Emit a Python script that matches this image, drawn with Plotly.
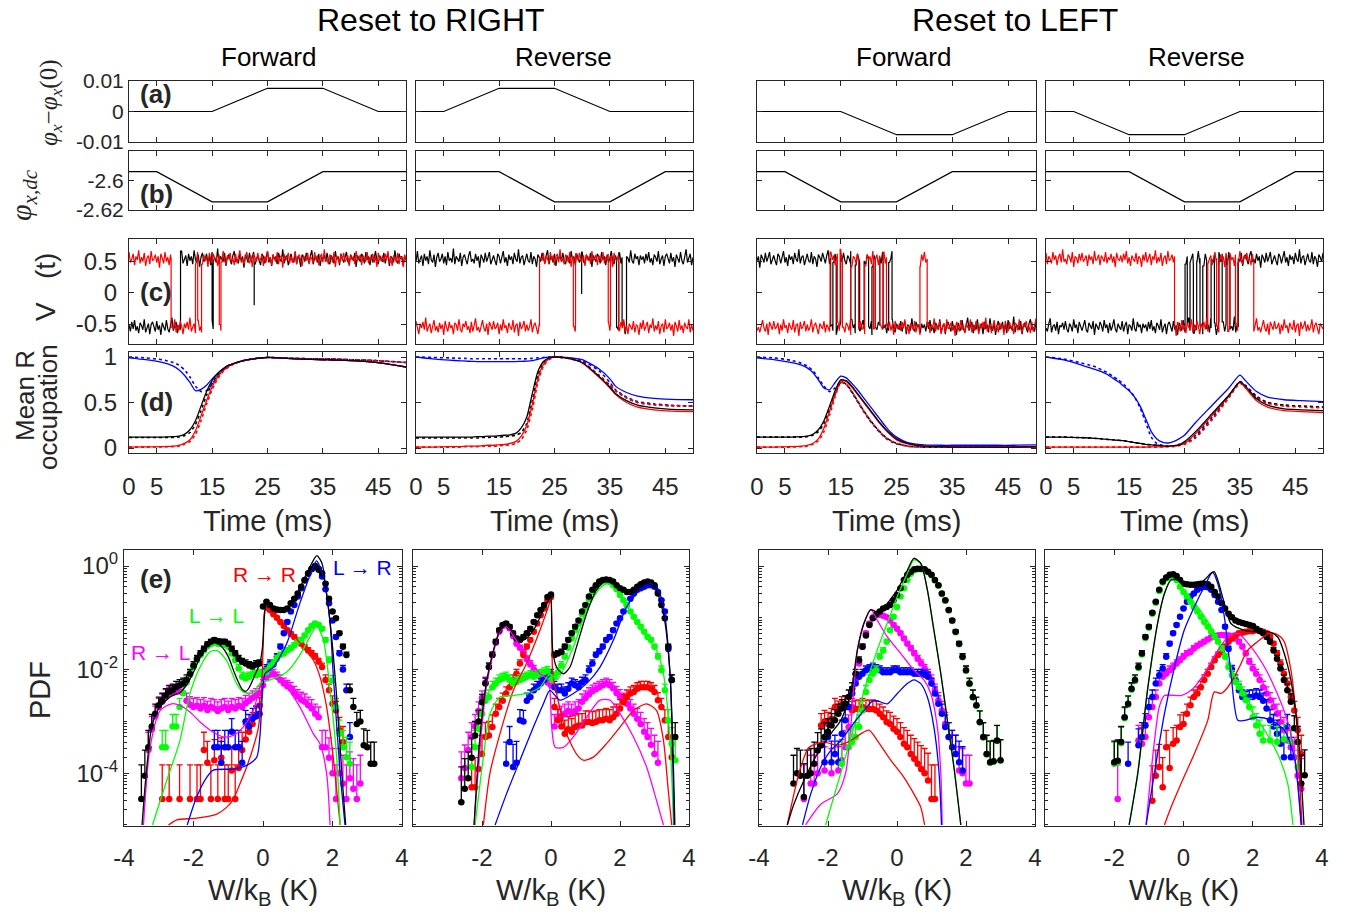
import plotly.graph_objects as go

FIG_W, FIG_H = 1348, 920
SANS = "Liberation Sans, Arial, sans-serif"
SERIF = "Liberation Serif, Times New Roman, serif"
AXC = "#262626"
K, R, G, B, M = "#000000", "#ff0000", "#00ff00", "#0000ff", "#ff00ff"
NA = None

PANELS = ["RF", "RR", "LF", "LR"]
COLS_TOP = [(129, 406), (416, 693), (757, 1036), (1046, 1323)]
COLS_E = [(124, 402), (413, 689), (759, 1035), (1045, 1322)]
ROWS = {"a": (81, 142), "b": (151, 210), "c": (239, 344), "d": (352, 453), "e": (550, 826)}

# ---------------- (a), (b) flux protocols
T_PROTO = [0, 5, 15, 25, 35, 45, 50]
PHI_X = {
    "RF": [0, 0, 0, 0.0076, 0.0076, 0, 0],
    "RR": [0, 0, 0.0076, 0.0076, 0, 0, 0],
    "LF": [0, 0, 0, -0.0076, -0.0076, 0, 0],
    "LR": [0, 0, -0.0076, -0.0076, 0, 0, 0],
}
PHI_DC = {
    "RF": [-2.594, -2.594, -2.6145, -2.6145, -2.594, -2.594, -2.594],
    "RR": [-2.594, -2.594, -2.594, -2.6145, -2.6145, -2.594, -2.594],
    "LF": [-2.594, -2.594, -2.6145, -2.6145, -2.594, -2.594, -2.594],
    "LR": [-2.594, -2.594, -2.594, -2.6145, -2.6145, -2.594, -2.594],
}

# ---------------- (c) V(t) traces: switching times + measured noise (units of NOISE_UNIT V)
T_END = 50.0
LEVEL_HIGH, LEVEL_LOW = 0.54, -0.55
NOISE_UNIT = 0.014
SWITCH_K = {  # (starts high?, switching times ms)
    "RF": (False, [9.3, 15.0, 15.2]),
    "RR": (True, [36.2, 36.6, 37.2, 38.0]),
    "LF": (True, [13.2, 13.6, 14.2, 15.0, 16.8, 17.6, 18.4, 19.2, 20.0, 20.6, 21.2, 22.0, 22.6, 23.6, 24.2]),
    "LR": (False, [25.1, 25.5, 26.0, 26.6, 27.2, 27.8, 28.3, 29.0, 29.8, 30.4, 31.2, 31.8, 32.5, 33.2, 34.7]),
}
SWITCH_R = {
    "RF": (True, [7.6, 12.0, 12.4, 13.1, 16.3, 16.6]),
    "RR": (False, [22.3, 28.4, 28.8, 34.7, 35.1, 36.6]),
    "LF": (False, [13.1, 14.4, 14.9, 15.3, 16.8, 18.2, 19.3, 20.9, 21.2, 22.0, 22.6, 23.2, 29.2, 30.5]),
    "LR": (True, [23.2, 29.2, 30.8, 31.2, 32.8, 33.2, 34.2, 34.6, 37.5]),
}
SPIKES_K = {"RF": [(22.6, -0.2)], "RR": [(29.9, -0.02)], "LF": [], "LR": []}
NOISE_SHIFT = {"RF": 0, "RR": 37, "LF": 81, "LR": 129}
NOISE_K = [
    3, -5, 6, -2, 8, -4, 1, -7, 5, 2, -3, 9, -6, 0, 4, -8, 3, 6, -1, -5,
    7, -3, 2, -9, 5, 1, -4, 8, -2, -6, 3, 11, -4, 0, 6, -7, 2, -3, 9, -5,
    1, 4, -8, 6, -2, 3, -6, 10, -1, -4, 5, -9, 2, 7, -3, 0, 6, -5, 3, -7,
    8, -2, 1, -4, 12, -6, 3, 0, -3, 7, -8, 2, 5, -1, -6, 4, 9, -3, 0, -5,
    6, -2, 3, -10, 5, 1, -4, 7, -3, 2, 8, -6, 0, 4, -2, -7, 6, 3, -5, 1,
    9, -4, 2, -8, 5, -1, 3, -6, 7, 0, -3, 11, -5, 2, 4, -7, 1, 6, -2, -4,
    8, -6, 3, 0, -9, 5, 2, -3, 7, -1, -5, 4, 10, -6, 1, 3, -4, 6, -8, 2,
    0, 5, -3, 7, -2, -6, 4, 1, -5, 9, -1, 3, -7, 6, 0, -4, 2, 8, -3, -6,
    5, 1, -2, 7, -9, 4, 0, -3, 6, 2, -5, 8, -1, 3, -7, 5, -4, 1, 9, -2,
    -6, 4, 0, -3, 7, -5, 2, 6, -8, 3, 1, -4, 10, -2, -5, 6, 0, 3, -7, 4,
    -1,
]
NOISE_R = [
    -4, 6, -1, 9, -5, 2, -8, 4, 0, -3, 7, -6, 3, 1, -9, 5, -2, 8, -4, 0,
    6, -7, 3, -1, 10, -5, 2, -3, 7, -8, 1, 4, -6, 9, -2, 0, 5, -4, 3, -10,
    6, 1, -5, 8, -3, 2, -7, 5, 0, -2, 9, -6, 3, -4, 7, 1, -8, 4, -1, 6,
    -3, 11, -5, 0, 4, -7, 2, 8, -4, 1, -6, 5, -2, 3, -9, 7, 0, -5, 6, -1,
    2, -8, 5, 3, -4, 9, -2, -6, 4, 0, 7, -3, 1, -7, 6, -5, 2, 10, -4, 0,
    -6, 3, 8, -1, -5, 4, -9, 6, 1, -3, 7, -2, 0, 5, -8, 3, -4, 9, -1, 2,
    -7, 5, 0, -3, 8, -6, 2, 4, -10, 6, -2, 1, 7, -5, 3, -4, 0, 9, -6, 2,
    5, -3, -8, 4, 1, -2, 7, -6, 3, 0, -5, 8, -1, 4, -7, 2, 6, -4, 11, -3,
    0, -6, 5, 2, -4, 8, -9, 3, 1, -5, 6, -2, 7, -3, 0, 4, -8, 5, -1, 3,
    -6, 9, -2, 0, 5, -7, 4, 1, -3, 8, -5, 2, -1, 6, -4, 3, -9, 7, 0, -2,
    4,
]

# ---------------- (d) mean R occupation (solid = theory, dotted = experiment)
T_OCC = [0, 3, 6, 8, 9, 10, 11, 12, 13, 14, 15, 16, 17, 18, 19, 20, 21, 22, 23, 24, 25, 27, 30, 33, 35, 36, 38, 40, 43, 46, 50]
OCC = {
    "RF": {
        "blue": [.99, .97, .94, .90, .86, .80, .72, .63, .645, .69, .76, .82, .87, .91, .93, .95, .965, .975, .985, .99, .995, .99, .98, .975, .97, .97, .965, .96, .95, .93, .89],
        "blueD": [1.0, .99, .97, .94, .91, .86, .78, .68, .62, .63, .70, .79, .85, .90, .93, .95, .965, .975, .985, .99, .995, .99, .985, .98, .98, .98, .975, .97, .965, .955, .94],
        "black": [.12, .12, .12, .125, .13, .15, .20, .30, .46, .62, .74, .82, .87, .91, .93, .95, .965, .975, .985, .99, .995, .99, .98, .975, .97, .97, .965, .96, .95, .93, .89],
        "blackD": [.115, .115, .115, .115, .12, .135, .17, .26, .41, .58, .71, .80, .86, .90, .93, .95, .965, .975, .985, .99, .995, .99, .985, .98, .98, .98, .975, .97, .965, .955, .94],
        "red": [.01, .012, .015, .02, .03, .05, .09, .19, .35, .52, .67, .78, .85, .90, .93, .95, .965, .975, .985, .99, .995, .99, .98, .975, .97, .97, .965, .96, .95, .93, .89],
        "redD": [.01, .01, .012, .015, .02, .04, .07, .15, .30, .48, .64, .76, .84, .89, .925, .95, .965, .975, .985, .99, .995, .99, .985, .98, .98, .98, .975, .97, .965, .955, .94],
    },
    "RR": {
        "blue": [1.0, .98, .965, .958, .955, .952, .95, .95, .95, .95, .95, .95, .95, .95, .952, .955, .96, .975, .99, .998, 1.0, .995, .97, .87, .76, .68, .61, .57, .545, .535, .53],
        "blueD": [1.0, .995, .99, .985, .985, .98, .98, .98, .98, .98, .98, .98, .98, .98, .98, .98, .985, .99, .995, 1.0, 1.0, .99, .96, .85, .72, .64, .56, .51, .485, .47, .46],
        "black": [.12, .12, .12, .12, .12, .12, .125, .125, .13, .13, .135, .14, .145, .16, .22, .34, .60, .84, .95, .99, 1.0, .99, .94, .79, .67, .60, .52, .47, .44, .425, .42],
        "blackD": [.11, .11, .11, .11, .11, .11, .11, .115, .115, .12, .12, .125, .13, .14, .17, .27, .52, .80, .93, .98, 1.0, .99, .945, .80, .69, .63, .55, .50, .475, .465, .46],
        "red": [.01, .01, .015, .015, .02, .02, .02, .025, .03, .03, .035, .04, .05, .07, .13, .25, .48, .76, .92, .98, 1.0, .99, .935, .78, .66, .59, .50, .45, .42, .405, .40],
        "redD": [.01, .01, .01, .01, .015, .015, .015, .02, .02, .02, .025, .03, .035, .05, .09, .20, .42, .72, .90, .97, 1.0, .99, .945, .80, .69, .63, .55, .50, .475, .465, .46],
    },
    "LF": {
        "blue": [.99, .97, .94, .91, .88, .83, .75, .66, .64, .72, .79, .77, .71, .64, .56, .48, .40, .32, .24, .17, .12, .06, .035, .03, .03, .03, .03, .03, .03, .03, .035],
        "blueD": [1.0, .99, .965, .93, .90, .85, .77, .68, .62, .66, .73, .70, .61, .51, .41, .32, .24, .17, .11, .07, .045, .02, .01, .01, .01, .01, .01, .01, .01, .01, .01],
        "black": [.12, .12, .12, .125, .13, .15, .20, .30, .46, .63, .75, .74, .68, .60, .52, .44, .36, .28, .21, .15, .10, .05, .02, .015, .01, .01, .01, .01, .01, .01, .015],
        "blackD": [.12, .12, .12, .12, .125, .14, .18, .27, .42, .59, .72, .70, .62, .52, .42, .33, .25, .18, .12, .08, .05, .02, .01, .01, .01, .01, .01, .01, .01, .01, .01],
        "red": [.01, .01, .015, .02, .03, .05, .10, .22, .40, .59, .74, .73, .67, .59, .51, .43, .35, .27, .20, .14, .09, .045, .02, .015, .01, .01, .01, .01, .01, .01, .01],
        "redD": [.01, .01, .01, .015, .02, .04, .08, .18, .36, .56, .72, .70, .62, .52, .42, .33, .25, .18, .12, .08, .05, .02, .01, .01, .01, .01, .01, .01, .01, .01, .01],
    },
    "LR": {
        "blue": [1.0, .97, .92, .88, .86, .84, .81, .77, .73, .68, .63, .56, .46, .32, .18, .10, .065, .055, .07, .10, .14, .28, .47, .66, .80, .74, .62, .56, .53, .52, .51],
        "blueD": [1.0, .98, .94, .91, .89, .86, .83, .79, .75, .70, .64, .56, .44, .28, .12, .05, .03, .02, .025, .04, .06, .14, .34, .57, .73, .69, .57, .50, .47, .46, .45],
        "black": [.12, .12, .115, .11, .105, .10, .095, .09, .085, .08, .07, .06, .05, .04, .035, .03, .025, .02, .025, .035, .07, .18, .38, .58, .73, .68, .54, .47, .43, .42, .41],
        "blackD": [.12, .12, .115, .11, .105, .10, .095, .09, .085, .08, .07, .06, .05, .04, .035, .03, .025, .02, .02, .03, .045, .12, .32, .56, .72, .68, .56, .50, .47, .46, .45],
        "red": [.01, .01, .01, .01, .01, .01, .01, .01, .01, .01, .01, .01, .01, .01, .012, .012, .013, .015, .02, .03, .05, .16, .36, .57, .72, .66, .52, .45, .41, .40, .39],
        "redD": [.01, .01, .01, .01, .01, .01, .01, .01, .01, .01, .01, .01, .01, .01, .01, .01, .012, .013, .015, .025, .04, .11, .31, .55, .71, .67, .55, .49, .46, .45, .44],
    },
}

# ---------------- (e) work PDFs: experiment, log10(PDF) in 0.1 K bins (start W, values)
BIN_W = 0.1
COUNT_SCALE = 2500.0  # counts per unit PDF in a bin (sets Poisson error bars)
PDF_EXP = {
    "RF": {
        M: (-3.3, [-3.55, -3.15, -2.9, -2.72, -2.62, -2.52, -2.47, -2.45, -2.42, -2.42, -2.45, -2.6, -2.68, -2.72, -2.7, -2.75, -2.7, -2.78, -2.72, -2.75, -2.8, -2.75, -2.72, -2.78, -2.72, -2.75, -2.7, -2.72, -2.65, -2.6, -2.55, -2.5, -2.45, -2.3, -2.15, -2.1, -2.08, -2.14, -2.2, -2.27, -2.32, -2.36, -2.45, -2.52, -2.58, -2.62, -2.69, -2.75, -2.85, -2.92, -3.5, -3.5, -3.7, -4.0, -4.5, -4.0, -4.2, -4.5, -4.1, -4.3, -4.5, -4.2]),
        R: (-2.9, [-4.5, NA, -4.5, NA, NA, -4.5, NA, NA, -4.5, NA, -4.5, -4.5, -3.55, -3.8, -4.5, -3.75, -4.5, -3.7, -4.5, -4.5, -3.95, -4.5, -3.9, -3.55, -3.35, -3.2, -3.05, -2.9, -2.7, -2.1, -0.78, -0.85, -0.93, -1.0, -1.08, -1.16, -1.24, -1.31, -1.37, -1.44, -1.5, -1.57, -1.63, -1.69, -1.75, -1.85, -1.95, -2.2, -2.4, -2.66, -2.79, -3.17, -3.4]),
        B: (-1.4, [-3.5, -3.5, -3.8, -3.5, -3.5, -3.2, -3.5, -3.5, -3.8, -3.0, -3.1, -2.95, -2.9, -2.85, -2.1, -1.98, -1.88, -1.9, -1.75, -1.56, -1.3, -1.08, -0.88, -0.75, -0.59, -0.43, -0.28, -0.15, -0.06, -0.01, -0.07, -0.2, -0.45, -0.72, -1.05, -1.37, -1.69, -2.0, -2.4, -3.3]),
        G: (-2.9, [-3.5, -3.5, NA, -3.1, -3.1, -2.72, -2.45, -2.25, -2.1, -1.95, -1.82, -1.72, -1.63, -1.55, -1.51, -1.48, -1.5, -1.51, -1.52, -1.56, -1.69, -1.82, -1.98, -2.14, -2.17, -2.14, -2.08, -2.11, -2.08, -2.1, -2.05, -1.95, -1.88, -1.79, -1.72, -1.69, -1.63, -1.59, -1.53, -1.46, -1.43, -1.34, -1.24, -1.16, -1.11, -1.14, -1.21, -1.43, -1.82, -2.21, -2.72, -3.24, -3.5, -3.69, -3.82]),
        K: (-3.5, [-4.5, -4.05, -3.5, -3.1, -2.85, -2.69, -2.6, -2.5, -2.43, -2.4, -2.34, -2.3, -2.27, -2.2, -2.08, -1.92, -1.79, -1.69, -1.6, -1.51, -1.46, -1.43, -1.45, -1.46, -1.46, -1.5, -1.6, -1.69, -1.79, -1.85, -1.88, -1.92, -1.94, -1.9, -1.88, -0.78, -0.69, -0.75, -0.82, -0.84, -0.85, -0.85, -0.82, -0.72, -0.63, -0.53, -0.4, -0.27, -0.14, -0.05, 0.0, -0.05, -0.14, -0.34, -0.63, -0.88, -1.01, -1.3, -1.56, -1.72, -2.4, -2.72, -3.05, -3.0, -3.46, -3.5, -3.82, -3.82]),
    },
    "RR": {
        M: (-2.6, [-4.1, -3.9, -3.55, -3.3, -3.1, -2.8, -2.55, -2.25, -1.95, -1.72, -1.48, -1.27, -1.16, -1.13, -1.2, -1.35, -1.5, -1.58, -1.66, -1.8, -1.9, -2.0, -2.1, -2.15, -2.2, -2.25, -2.3, -3.1, -2.95, -2.9, -2.85, -2.8, -2.85, -2.8, -2.75, -2.62, -2.55, -2.48, -2.42, -2.38, -2.34, -2.3, -2.27, -2.3, -2.36, -2.45, -2.52, -2.6, -2.66, -2.75, -2.85, -2.95, -3.05, -3.2, -3.3, -3.45, -3.63, -3.8]),
        R: (-2.3, [-4.27, -4.27, -3.92, -3.63, -3.3, -3.27, -3.11, -2.85, -2.72, -2.6, -2.46, -2.34, -2.2, -2.08, -1.88, -1.72, -1.56, -1.43, -1.27, -1.11, -0.95, -0.82, -0.66, -0.6, -2.72, -2.98, -3.1, -3.24, -3.15, -3.2, -3.11, -3.08, -3.08, -3.01, -3.01, -3.03, -3.01, -2.98, -2.98, -2.95, -2.98, -2.92, -2.85, -2.75, -2.63, -2.53, -2.46, -2.43, -2.37, -2.34, -2.34, -2.34, -2.37, -2.43, -2.59, -2.72, -2.98, -3.3, -3.69]),
        B: (-1.3, [-3.82, -3.4, -3.88, -3.8, -2.98, -3.0, -2.6, -2.53, -2.4, -2.34, -2.27, -2.2, -2.15, -2.08, -2.34, -2.4, -2.4, -2.46, -2.37, -2.27, -2.3, -2.34, -2.25, -2.2, -2.01, -1.88, -1.72, -1.65, -1.56, -1.43, -1.37, -1.24, -1.11, -1.01, -0.88, -0.75, -0.63, -0.53, -0.46, -0.43, -0.4, -0.37, -0.37, -0.4, -0.5, -0.66, -0.88, -1.6, -2.2]),
        G: (-2.3, [-3.88, -3.5, -3.14, -2.85, -2.6, -2.53, -2.34, -2.27, -2.2, -2.17, -2.14, -2.2, -2.27, -2.24, -2.2, -2.17, -2.14, -2.11, -2.14, -2.11, -2.08, -2.05, -2.02, -2.2, -2.14, -2.05, -1.92, -1.75, -1.58, -1.4, -1.24, -1.1, -0.93, -0.8, -0.64, -0.5, -0.4, -0.33, -0.3, -0.29, -0.31, -0.37, -0.45, -0.56, -0.66, -0.75, -0.88, -0.98, -1.08, -1.17, -1.27, -1.37, -1.43, -1.56, -1.75, -2.01, -2.4, -2.98, -3.43, -3.75]),
        K: (-2.6, [-4.56, -4.3, -4.1, -3.7, -3.27, -3.0, -2.63, -2.27, -1.95, -1.72, -1.46, -1.24, -1.14, -1.11, -1.17, -1.3, -1.4, -1.43, -1.37, -1.3, -1.21, -1.08, -0.95, -0.85, -0.75, -0.6, -0.55, -1.72, -1.69, -1.66, -1.56, -1.43, -1.3, -1.17, -1.05, -0.88, -0.75, -0.59, -0.46, -0.37, -0.3, -0.27, -0.26, -0.27, -0.3, -0.37, -0.43, -0.46, -0.5, -0.5, -0.46, -0.4, -0.35, -0.32, -0.3, -0.32, -0.37, -0.53, -0.75, -1.01, -1.56, -2.2, -3.3]),
    },
    "LF": {
        M: (-2.7, [-4.5, NA, -4.2, -4.2, -4.0, NA, -3.95, NA, -4.0, NA, -3.95, -3.75, -3.5, -3.11, -2.72, -2.2, -1.88, -1.56, -1.3, -1.11, -0.99, -0.95, -0.94, -0.96, -0.99, -1.05, -1.14, -1.21, -1.3, -1.4, -1.5, -1.59, -1.69, -1.79, -1.88, -1.98, -2.08, -2.2, -2.4, -2.59, -2.79, -3.05, -3.3, -3.5, -3.63, -3.95, -4.0, -4.2, -4.2]),
        R: (-2.2, [-3.08, -3.0, -3.05, -2.95, -2.72, -2.78, -2.68, -2.66, -2.72, -2.79, -2.76, -2.76, -2.72, -2.76, -2.76, -2.76, -2.79, -2.85, -2.92, -3.01, -3.05, -3.14, -3.2, -3.3, -3.43, -3.5, -3.63, -3.72, -3.82, -3.92, -4.0, -4.14, -4.5, -4.5]),
        B: (-2.1, [-3.79, -3.3, -3.79, -3.63, -3.79, -3.24, -2.98, -2.72, -2.46, -2.27, -2.14, -2.08, -2.01, -1.98, -1.95, -1.98, -2.01, -2.05, -2.05, -2.05, -2.01, -2.01, -2.05, -2.05, -2.05, -2.05, -2.08, -2.08, -2.08, -2.1, -2.14, -2.27, -2.46, -2.66, -2.85, -3.11, -3.3, -3.5, -3.63, -3.79, -3.95]),
        G: (-1.6, [-3.82, NA, -3.5, -3.4, -3.3, -3.11, -2.79, -2.43, -2.2, -2.08, -2.01, -1.75, -1.63, -1.46, -1.24, -0.98, -0.79, -0.59, -0.43, -0.27, -0.15, -0.08, -0.06, -0.06, -0.07, -0.12, -0.18, -0.28, -0.38, -0.54, -0.67, -0.86, -1.06, -1.28, -1.51, -1.76, -2.02, -2.28, -2.54, -2.7, -3.02, -3.31, -3.64, -3.8, -3.78, -3.38, -3.76]),
        K: (-3.0, [-4.2, -4.0, -4.05, -4.46, -4.05, -4.0, -3.82, -3.56, -3.46, -3.3, -3.2, -3.08, -2.98, -2.85, -2.75, -2.66, -2.53, -2.37, -2.08, -1.82, -1.56, -1.34, -1.14, -1.01, -0.93, -0.88, -0.82, -0.79, -0.75, -0.66, -0.56, -0.43, -0.27, -0.17, -0.11, -0.06, -0.05, -0.05, -0.06, -0.11, -0.17, -0.27, -0.37, -0.53, -0.66, -0.85, -1.05, -1.27, -1.5, -1.75, -2.01, -2.27, -2.53, -2.69, -3.01, -3.3, -3.63, -3.79, -3.77, -3.37, -3.75]),
    },
    "LR": {
        M: (-1.9, [-4.5, NA, NA, NA, NA, NA, -3.37, -3.43, -3.3, -2.92, -2.72, -2.53, -2.27, -2.14, -2.08, -2.01, -1.95, -1.88, -1.82, -1.75, -1.69, -1.66, -1.59, -1.54, -1.5, -1.46, -1.42, -1.38, -1.35, -1.34, -1.33, -1.34, -1.34, -1.36, -1.4, -1.46, -1.56, -1.69, -1.85, -1.98, -2.08, -2.2, -2.34, -2.46, -2.59, -2.72, -2.85, -3.01, -3.17, -3.37, -3.5, -3.69, -4.05, -4.3]),
        R: (-0.9, [-4.53, -4.05, -3.88, -4.27, -3.5, -3.9, -3.43, -3.37, -3.11, -3.05, -2.85, -2.69, -2.53, -2.46, -2.34, -2.2, -2.08, -1.95, -1.82, -1.72, -1.66, -1.56, -1.46, -1.4, -1.34, -1.3, -1.29, -1.27, -1.26, -1.26, -1.24, -1.26, -1.27, -1.3, -1.37, -1.5, -1.69, -1.88, -2.08, -2.27, -2.53, -2.79, -3.17, -3.63]),
        B: (-1.6, [-3.82, NA, NA, -3.46, -3.3, -3.08, -2.72, -2.53, -2.27, -2.11, -1.98, -1.75, -1.5, -1.3, -1.14, -0.98, -0.82, -0.69, -0.59, -0.53, -0.46, -0.42, -0.4, -0.41, -0.46, -0.56, -0.69, -0.85, -1.17, -1.6, -2.0, -2.2, -2.4, -2.53, -2.56, -2.53, -2.53, -2.5, -2.53, -2.6, -2.75, -2.98, -3.1, -3.24, -3.43, -3.69, -3.1, -3.69]),
        G: (-2.0, [-3.82, -3.79, -3.42, -2.94, -2.68, -2.39, -2.22, -1.97, -1.71, -1.39, -1.19, -0.92, -0.71, -0.48, -0.32, -0.24, -0.2, -0.22, -0.27, -0.4, -0.5, -0.59, -0.69, -0.79, -0.88, -0.98, -1.08, -1.17, -1.27, -1.37, -1.46, -1.59, -1.75, -1.95, -2.11, -2.24, -2.34, -2.46, -2.59, -2.72, -2.92, -3.08, -3.24, -3.37, NA, -3.37, NA, -3.4, NA, -3.35, NA, -3.4, NA, -3.88]),
        K: (-2.0, [-3.79, -3.76, -3.4, -2.92, -2.66, -2.37, -2.2, -1.95, -1.69, -1.37, -1.17, -0.9, -0.69, -0.46, -0.3, -0.22, -0.17, -0.16, -0.19, -0.27, -0.34, -0.35, -0.36, -0.36, -0.35, -0.34, -0.34, -0.35, -0.4, -0.5, -0.59, -0.72, -0.82, -0.92, -0.99, -1.05, -1.08, -1.1, -1.12, -1.14, -1.16, -1.21, -1.25, -1.3, -1.37, -1.46, -1.63, -1.79, -1.98, -2.2, -2.4, -2.62, -3.13, -3.4, -4.2, -4.04]),
    },
}

# ---------------- (e) theory curves: (W values, log10 PDF)
PDF_TH = {
    "RF": {
        M: ([-3.44, -3.25, -2.96, -2.63, -2.39, -2.1, -1.81, -1.43, -1.14, -0.85, -0.57, -0.28, -0.09, 0.01, 0.3, 0.68, 1.06, 1.45, 1.64, 1.83, 1.93],
            [-5.0, -3.5, -2.79, -2.66, -2.69, -2.82, -3.01, -3.21, -3.3, -3.27, -3.11, -2.79, -2.34, -2.14, -2.14, -2.34, -2.72, -3.24, -3.43, -4.0, -5.0]),
        R: ([-2.72, -2.48, -1.91, -1.33, -1.05, -0.85, -0.66, -0.47, -0.28, -0.13, -0.04, 0.01, 0.06, 0.2, 0.68, 1.16, 1.45, 1.64, 1.83, 2.02, 2.17, 2.22],
            [-5.0, -4.9, -4.87, -4.79, -4.66, -4.5, -4.2, -3.88, -3.5, -3.11, -2.4, -1.43, -0.85, -0.88, -1.2, -1.56, -1.82, -2.14, -2.72, -3.69, -4.66, -5.0]),
        G: ([-3.18, -2.77, -2.39, -2.1, -1.81, -1.53, -1.33, -1.05, -0.76, -0.57, -0.28, -0.09, 0.2, 0.68, 1.06, 1.45, 1.54, 1.74, 1.93, 2.12, 2.22],
            [-5.0, -4.14, -3.37, -2.46, -1.95, -1.66, -1.63, -1.82, -2.27, -2.43, -2.46, -2.27, -2.2, -2.05, -1.72, -1.24, -1.14, -1.43, -2.4, -3.69, -5.0]),
        B: ([-2.18, -1.91, -1.62, -1.43, -0.85, -0.47, -0.18, -0.09, -0.01, 0.06, 0.3, 0.68, 1.06, 1.45, 1.54, 1.74, 1.93, 2.02, 2.22, 2.36],
            [-5.0, -4.46, -4.08, -3.94, -3.92, -3.85, -3.69, -3.3, -2.4, -2.08, -1.95, -1.5, -0.72, -0.02, 0.1, -0.2, -1.1, -2.08, -4.0, -5.0]),
        K: ([-3.48, -3.4, -3.3, -3.2, -3.0, -2.8, -2.6, -2.4, -2.2, -2.0, -1.8, -1.6, -1.4, -1.2, -1.0, -0.8, -0.6, -0.5, -0.4, -0.2, -0.1, -0.02, 0.05, 0.1, 0.2, 0.4, 0.6, 0.8, 1.0, 1.2, 1.4, 1.55, 1.7, 1.8, 1.9, 2.0, 2.1, 2.2, 2.3, 2.38],
            [-5.0, -4.3, -3.6, -3.1, -2.75, -2.6, -2.5, -2.45, -2.3, -2.05, -1.75, -1.55, -1.48, -1.55, -1.75, -2.1, -2.38, -2.42, -2.35, -2.05, -1.9, -1.6, -0.9, -0.72, -0.78, -0.88, -0.88, -0.75, -0.52, -0.22, 0.05, 0.2, 0.05, -0.4, -0.9, -1.55, -2.35, -3.3, -4.3, -5.0]),
    },
    "RR": {
        M: ([-2.23, -1.86, -1.48, -1.29, -1.04, -0.71, -0.32, -0.08, 0.02, 0.12, 0.36, 0.65, 1.03, 1.42, 1.71, 2.0, 2.39, 2.77, 3.06, 3.26],
            [-5.0, -2.27, -1.27, -1.17, -1.4, -1.72, -2.08, -2.2, -3.11, -3.5, -3.5, -3.3, -2.92, -2.59, -2.59, -2.85, -3.3, -3.88, -4.53, -5.0]),
        R: ([-1.96, -1.77, -1.48, -1.09, -0.71, -0.32, -0.08, -0.01, 0.05, 0.16, 0.45, 0.74, 0.94, 1.23, 1.61, 2.0, 2.39, 2.77, 3.06, 3.26, 3.4, 3.5],
            [-5.0, -4.0, -3.24, -2.4, -1.88, -1.24, -0.79, -0.66, -2.08, -2.46, -3.24, -3.63, -3.75, -3.69, -3.43, -3.11, -2.79, -2.66, -2.79, -3.37, -4.34, -5.0]),
        G: ([-2.2, -1.96, -1.77, -1.48, -1.09, -0.71, -0.32, -0.03, 0.16, 0.65, 1.03, 1.42, 1.66, 2.0, 2.39, 2.77, 3.06, 3.26, 3.45, 3.55],
            [-5.0, -3.69, -2.85, -2.53, -2.5, -2.46, -2.34, -2.08, -2.2, -1.56, -0.85, -0.43, -0.34, -0.56, -0.98, -1.37, -1.63, -2.08, -3.37, -5.0]),
        B: ([-1.62, -1.29, -0.9, -0.51, -0.22, -0.03, 0.26, 0.65, 1.03, 1.42, 1.81, 2.19, 2.58, 2.87, 3.06, 3.26, 3.45, 3.57],
            [-5.0, -4.4, -3.75, -3.11, -2.66, -2.4, -2.59, -2.46, -2.27, -1.95, -1.43, -0.79, -0.46, -0.34, -0.4, -0.79, -2.08, -5.0]),
        K: ([-2.23, -2.06, -1.86, -1.67, -1.48, -1.29, -1.04, -0.8, -0.51, -0.22, -0.08, -0.01, 0.05, 0.16, 0.36, 0.55, 0.74, 1.03, 1.32, 1.61, 1.9, 2.19, 2.48, 2.77, 2.97, 3.26, 3.45, 3.59],
            [-5.0, -3.3, -2.2, -1.63, -1.24, -1.14, -1.34, -1.43, -1.24, -0.85, -0.66, -0.53, -1.63, -1.95, -2.08, -1.95, -1.56, -0.92, -0.46, -0.27, -0.34, -0.5, -0.4, -0.27, -0.34, -0.92, -2.08, -5.0]),
    },
    "LF": {
        M: ([-2.65, -2.21, -1.73, -1.49, -1.34, -1.15, -0.96, -0.76, -0.57, -0.28, 0.11, 0.49, 0.78, 0.98, 1.17, 1.27, 1.31],
            [-5.0, -4.6, -4.4, -4.0, -3.11, -1.63, -1.11, -0.84, -1.05, -1.37, -1.69, -2.01, -2.2, -2.46, -3.11, -4.0, -5.0]),
        R: ([-3.18, -2.84, -2.55, -2.12, -1.73, -1.34, -1.05, -0.81, -0.57, -0.18, 0.2, 0.49, 0.69, 0.8],
            [-5.0, -4.0, -3.5, -3.4, -3.46, -3.37, -3.24, -3.17, -3.37, -3.75, -4.08, -4.4, -4.66, -5.0]),
        G: ([-2.07, -1.63, -1.25, -0.86, -0.47, -0.18, 0.01, 0.3, 0.49, 0.69, 0.88, 1.07, 1.27, 1.46, 1.65, 1.85],
            [-5.0, -4.0, -3.11, -2.2, -1.43, -0.92, -0.59, -0.14, 0.12, 0.05, -0.46, -1.24, -2.08, -2.98, -3.88, -5.0]),
        B: ([-2.74, -2.5, -2.21, -1.92, -1.63, -1.34, -0.96, -0.67, -0.28, 0.01, 0.3, 0.49, 0.69, 0.88, 1.07, 1.22, 1.29],
            [-5.0, -4.4, -3.88, -3.56, -3.37, -3.11, -2.79, -2.59, -2.66, -2.46, -2.27, -2.2, -2.27, -2.53, -3.11, -4.0, -5.0]),
        K: ([-3.18, -2.99, -2.7, -2.31, -1.92, -1.63, -1.34, -1.15, -0.96, -0.76, -0.62, -0.47, -0.28, 0.01, 0.3, 0.49, 0.69, 0.88, 1.07, 1.27, 1.46, 1.65, 1.85],
            [-5.0, -4.6, -4.14, -3.63, -3.24, -2.98, -2.46, -1.63, -1.11, -0.84, -0.88, -0.88, -0.72, -0.46, -0.08, 0.15, 0.05, -0.46, -1.24, -2.08, -2.98, -3.88, -5.0]),
    },
    "LR": {
        M: ([-1.08, -0.89, -0.7, -0.55, -0.07, 0.22, 0.6, 0.99, 1.28, 1.57, 1.95, 2.34, 2.58, 3.0, 3.2, 3.4],
            [-5.0, -3.69, -2.72, -2.5, -2.5, -2.4, -2.08, -1.63, -1.37, -1.3, -1.56, -1.95, -2.27, -2.98, -3.6, -5.0]),
        R: ([-0.55, -0.36, -0.07, 0.31, 0.7, 0.89, 1.08, 1.28, 1.57, 1.85, 2.14, 2.48, 2.7, 2.9, 3.1, 3.25, 3.42],
            [-5.0, -4.66, -4.2, -3.63, -2.98, -2.43, -2.46, -2.34, -2.01, -1.63, -1.46, -1.3, -1.32, -1.45, -2.0, -2.9, -5.0]),
        G: ([-1.57, -1.32, -1.04, -0.75, -0.55, -0.36, -0.17, 0.02, 0.41, 0.79, 1.18, 1.57, 1.95, 2.34, 2.72, 3.01, 3.16],
            [-5.0, -4.0, -2.4, -1.11, -0.53, -0.26, -0.3, -0.46, -0.79, -1.17, -1.69, -2.27, -2.79, -3.17, -3.63, -4.2, -5.0]),
        B: ([-1.08, -0.84, -0.55, -0.26, 0.02, 0.31, 0.6, 0.84, 0.99, 1.18, 1.37, 1.57, 1.76, 2.14, 2.53, 2.91, 3.2, 3.4],
            [-5.0, -4.0, -2.85, -1.95, -1.24, -0.79, -0.4, -0.12, -0.34, -0.98, -2.08, -2.98, -2.98, -2.92, -2.98, -3.17, -3.69, -5.0]),
        K: ([-1.57, -1.32, -1.04, -0.75, -0.55, -0.36, -0.17, 0.02, 0.31, 0.6, 0.79, 0.89, 0.99, 1.18, 1.37, 1.76, 2.14, 2.48, 2.72, 3.0, 3.2, 3.33, 3.48],
            [-5.0, -4.0, -2.4, -1.11, -0.53, -0.27, -0.27, -0.34, -0.37, -0.27, -0.14, -0.11, -0.27, -0.72, -1.11, -1.24, -1.27, -1.27, -1.37, -1.9, -2.6, -3.4, -5.0]),
    },
}

TIME_TICKS = [0, 5, 15, 25, 35, 45]
W_TICKS = [-4, -2, 0, 2, 4]
W_TEXT = [["-4", "-2", "0", "2", "4"], ["", "-2", "0", "2", "4"], ["-4", "-2", "0", "2", "4"], ["", "-2", "0", "2", "4"]]

fig = go.Figure()
layout = dict(width=FIG_W, height=FIG_H, margin=dict(l=0, r=0, t=0, b=0, pad=0, autoexpand=False),
              paper_bgcolor="white", plot_bgcolor="white", showlegend=False)


def ax_names(n):
    s = "" if n == 1 else str(n)
    return "x" + s, "y" + s, "xaxis" + s, "yaxis" + s


def base_axis(size):
    return dict(showline=True, linecolor=AXC, linewidth=1.1, mirror="ticks", ticks="inside",
                ticklen=5, tickwidth=1, tickcolor=AXC, showgrid=False, zeroline=False,
                automargin=False, tickfont=dict(family=SANS, size=size, color=AXC), fixedrange=True)


def telegraph(start_high, toggles, noise, shift, spikes):
    n = len(noise)
    dt = T_END / (n - 1)
    events = sorted([(t, "t", None) for t in toggles] + [(t, "s", v) for t, v in spikes])
    xs, ys = [], []
    state = start_high
    k = 0
    for i in range(n):
        t = i * dt
        nz = noise[(i + shift) % n] * NOISE_UNIT
        while k < len(events) and events[k][0] <= t:
            te, kind, v = events[k]
            lvl = LEVEL_HIGH if state else LEVEL_LOW
            if kind == "t":
                state = not state
                xs += [te, te]
                ys += [lvl + nz, (LEVEL_HIGH if state else LEVEL_LOW) + nz]
            else:
                xs += [te, te, te]
                ys += [lvl + nz, v, lvl + nz]
            k += 1
        xs.append(t)
        ys.append((LEVEL_HIGH if state else LEVEL_LOW) + nz)
    return xs, ys


minor_vals = [m * 10.0 ** e for e in range(-5, 1) for m in range(1, 10)]

for r, row in enumerate("abcde"):
    for c, p in enumerate(PANELS):
        n = r * 4 + c + 1
        xr, yr, xk, yk = ax_names(n)
        left, right = (COLS_E if row == "e" else COLS_TOP)[c]
        top, bot = ROWS[row]
        xd = [left / FIG_W, right / FIG_W]
        yd = [1 - bot / FIG_H, 1 - top / FIG_H]
        first = c == 0
        xa = base_axis(24)
        if row != "e":
            xa.update(domain=xd, anchor=yr, range=[0, 50], tickmode="array", tickvals=TIME_TICKS,
                      ticktext=[str(v) for v in TIME_TICKS], showticklabels=(row == "d"),
                      ticklabelstandoff=12)
        else:
            xa.update(domain=xd, anchor=yr, range=[-4, 4], tickmode="array", tickvals=W_TICKS,
                      ticktext=W_TEXT[c], ticklabelstandoff=10)
        if row == "a":
            ya = base_axis(21)
            ya.update(range=[-0.01, 0.01], tickvals=[-0.01, 0, 0.01], ticktext=["-0.01", "0", "0.01"])
            fig.add_trace(go.Scatter(x=T_PROTO, y=PHI_X[p], mode="lines", line=dict(color=K, width=1.2),
                                     xaxis=xr, yaxis=yr, hoverinfo="skip"))
        elif row == "b":
            ya = base_axis(21)
            ya.update(range=[-2.62, -2.58], tickvals=[-2.62, -2.6], ticktext=["-2.62", "-2.6"])
            fig.add_trace(go.Scatter(x=T_PROTO, y=PHI_DC[p], mode="lines", line=dict(color=K, width=1.2),
                                     xaxis=xr, yaxis=yr, hoverinfo="skip"))
        elif row == "c":
            ya = base_axis(24)
            ya.update(range=[-0.82, 0.86], tickvals=[-0.5, 0, 0.5], ticktext=["-0.5", "0", "0.5"],
                      ticklabelstandoff=6)
            sh, tg = SWITCH_K[p]
            xs, ys = telegraph(sh, tg, NOISE_K, NOISE_SHIFT[p], SPIKES_K[p])
            fig.add_trace(go.Scatter(x=xs, y=ys, mode="lines", line=dict(color=K, width=1.2),
                                     xaxis=xr, yaxis=yr, hoverinfo="skip"))
            sh, tg = SWITCH_R[p]
            xs, ys = telegraph(sh, tg, NOISE_R, NOISE_SHIFT[p] + 17, [])
            fig.add_trace(go.Scatter(x=xs, y=ys, mode="lines", line=dict(color=R, width=1.2),
                                     xaxis=xr, yaxis=yr, hoverinfo="skip"))
        elif row == "d":
            ya = base_axis(24)
            ya.update(range=[-0.055, 1.055], tickvals=[0, 0.5, 1], ticktext=["0", "0.5", "1"],
                      ticklabelstandoff=6)
            occ = OCC[p]
            for key, col, dash in [("blueD", B, "dot"), ("blackD", K, "dot"), ("redD", R, "dot"),
                                   ("blue", B, "solid"), ("red", R, "solid"), ("black", K, "solid")]:
                fig.add_trace(go.Scatter(x=T_OCC, y=occ[key], mode="lines",
                                         line=dict(color=col, width=1.3 if dash == "solid" else 1.6,
                                                   dash=dash, shape="spline", smoothing=0.6),
                                         xaxis=xr, yaxis=yr, hoverinfo="skip"))
        else:
            ya = base_axis(24)
            ya.update(type="log", range=[-5.02, 0.31], tickmode="array", tickvals=[1e-4, 1e-2, 1],
                      ticktext=["10<sup>-4</sup>", "10<sup>-2</sup>", "10<sup>0</sup>"],
                      minor=dict(ticks="inside", ticklen=3, tickcolor=AXC, tickmode="array",
                                 tickvals=minor_vals, showgrid=False))
            for col in [M, R, B, G, K]:
                start, vals = PDF_EXP[p][col]
                xs, ys, up = [], [], []
                for i, v in enumerate(vals):
                    if v is None:
                        continue
                    pv = 10 ** v
                    xs.append(round(start + BIN_W * i, 2))
                    ys.append(pv)
                    up.append((pv / COUNT_SCALE) ** 0.5)
                fig.add_trace(go.Scatter(
                    x=xs, y=ys, mode="markers", marker=dict(color=col, size=6.5),
                    error_y=dict(type="data", symmetric=False, array=up, arrayminus=[0] * len(up),
                                 color=col, thickness=1.3, width=3),
                    xaxis=xr, yaxis=yr, hoverinfo="skip"))
            for col in [M, R, G, B, K]:
                wx, lg = PDF_TH[p][col]
                fig.add_trace(go.Scatter(x=wx, y=[10 ** v for v in lg], mode="lines",
                                         line=dict(color=col, width=1.3, shape="spline", smoothing=0.7),
                                         xaxis=xr, yaxis=yr, hoverinfo="skip"))
        ya.update(domain=yd, anchor=xr, showticklabels=first)
        layout[xk] = xa
        layout[yk] = ya

ANN = []


def ann(text, px, py, size, color="#000000", angle=0, family=SANS):
    ANN.append(dict(text=text, x=px / FIG_W, y=1 - py / FIG_H, xref="paper", yref="paper",
                    showarrow=False, textangle=angle, xanchor="center", yanchor="middle",
                    font=dict(size=size, color=color, family=family)))


ann("Reset to RIGHT", 431, 20, 32)
ann("Reset to LEFT", 1015, 20, 32)
for txt, cx in [("Forward", 268), ("Reverse", 563), ("Forward", 903), ("Reverse", 1196)]:
    ann(txt, cx, 57, 26)
for c in range(4):
    l, rr = COLS_TOP[c]
    ann("Time (ms)", (l + rr) / 2, 521, 29, AXC)
    l, rr = COLS_E[c]
    ann("W/k<sub>B</sub> (K)", (l + rr) / 2, 892, 29, AXC)
ann("<i>φ<sub>x</sub></i>−<i>φ<sub>x</sub></i>(0)", 50, 102, 25, AXC, -90, SERIF)
ann("<i>φ<sub>x,dc</sub></i>", 23, 195, 30, AXC, -90, SERIF)
ann("V\u00a0\u00a0\u00a0(t)", 45, 287, 28, AXC, -90)
ann("Mean R", 25, 395, 26, AXC, -90)
ann("occupation", 48, 407, 26, AXC, -90)
ann("PDF", 40, 690, 29, AXC, -90)
for lab, py in [("(a)", 94), ("(b)", 194), ("(c)", 292), ("(d)", 402), ("(e)", 579)]:
    ann("<b>" + lab + "</b>", 156, py, 26, AXC)
ann("R → R", 264, 574, 21, R)
ann("L → R", 362, 567, 21, B)
ann("L → L", 216, 615, 21, G)
ann("R → L", 161, 652, 21, M)

layout["annotations"] = ANN
fig.update_layout(**layout)
fig.write_html("out.html", config={"displayModeBar": False},
               post_script="document.body.style.margin='0px';document.body.style.padding='0px';")
